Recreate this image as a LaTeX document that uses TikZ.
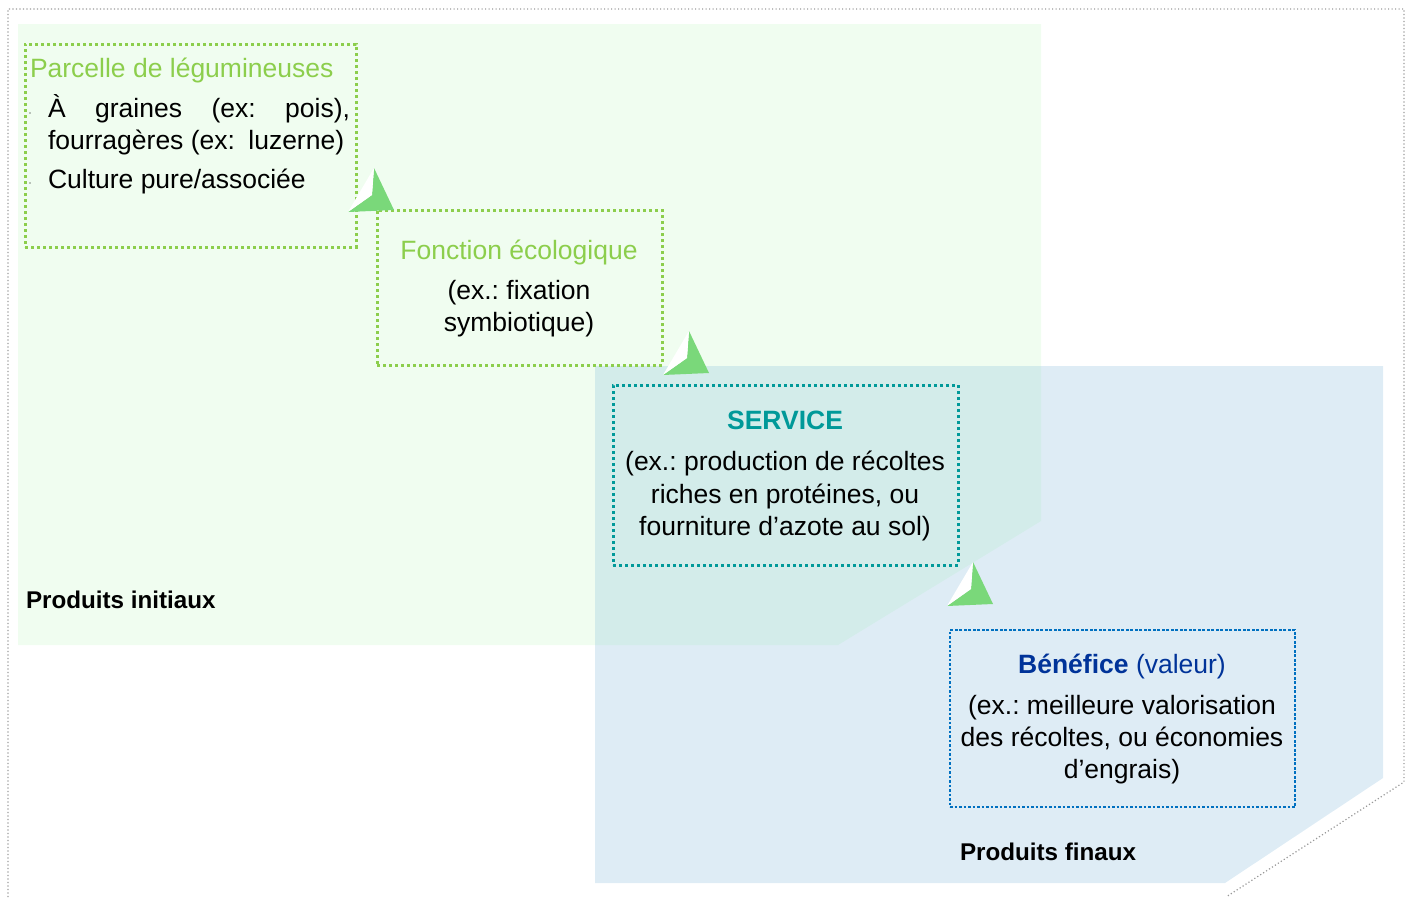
\documentclass[tikz,border=0pt]{standalone}
\usepackage{fontspec}
\setmainfont{Liberation Sans}
\frenchspacing
\definecolor{zonegreen}{RGB}{240,253,240}
\definecolor{zoneblue}{RGB}{222,236,245}
\definecolor{zoneboth}{RGB}{211,236,234}
\definecolor{lgreen}{RGB}{140,206,76}
\definecolor{tealc}{RGB}{0,153,153}
\definecolor{bluebox}{RGB}{0,112,192}
\definecolor{darkblue}{RGB}{0,51,153}
\definecolor{arrowgreen}{RGB}{122,216,122}
\begin{document}
\begin{tikzpicture}[x=1pt,y=-1pt,
  every node/.style={inner sep=0pt,outer sep=0pt},
  txt/.style={font=\fontsize{26.5}{33}\selectfont},
  lbl/.style={font=\fontsize{24.2}{28}\selectfont\bfseries},
  greenbox/.style={draw=lgreen,line width=3pt,dash pattern=on 3pt off 3pt},
  tealbox/.style={draw=tealc,line width=3pt,dash pattern=on 3pt off 3pt},
  bluedbox/.style={draw=bluebox,line width=2.8pt,dash pattern=on 2.6pt off 1.9pt},
  frame/.style={draw=gray!80,line width=1.2pt,dash pattern=on 1.2pt off 2.3pt},
  arrowhd/.pic={
    \fill[arrowgreen] (0,0) -- (20,42) -- (-26,44) -- (-2,27) -- cycle;
    \fill[white] (0,0) -- (-2,27) -- (-26,44) -- cycle;
  }]
\useasboundingbox (0,0) rectangle (1411,897);
% zones
\fill[zonegreen] (18,24) -- (1041,24) -- (1041,521) -- (838,645) -- (18,645) -- cycle;
\fill[zoneblue] (595,366) -- (1383,366) -- (1383,778) -- (1225,883) -- (595,883) -- cycle;
\fill[zoneboth] (595,366) -- (1041,366) -- (1041,521) -- (838,645) -- (595,645) -- cycle;
% outer frame
\draw[frame] (8,897) -- (8,9) -- (1404,9) -- (1404,782) -- (1226,897);
% boxes
\node[greenbox,minimum width=331pt,minimum height=203pt] (parcelle) at (190.5,145.5) {};
\node[greenbox,minimum width=285pt,minimum height=155pt] (fonction) at (519.5,287.5) {};
\node[tealbox,minimum width=345pt,minimum height=180pt] (service) at (785.5,475) {};
\node[bluedbox,minimum width=345pt,minimum height=177pt] (benefice) at (1122.5,718.5) {};
% box 1 text
\node[txt,text=lgreen,anchor=base west] (t1) at (30,77) {Parcelle de légumineuses};
\node[txt,anchor=base west] (t1a) at (48,117) {\makebox[302pt][s]{À graines (ex: pois),}};
\node[txt,anchor=base west] (t1b) at (48,149) {fourragères (ex:\hspace{6pt} luzerne)};
\node[txt,anchor=base west] (t1c) at (48,188) {Culture pure/associée};
\fill (30,113) circle (0.6pt);
\fill (30,183) circle (0.6pt);
% box 2 text
\node[txt,text=lgreen,anchor=base] (t2) at (519,259) {Fonction écologique};
\node[txt,anchor=base] (t2a) at (519,299) {(ex.: fixation};
\node[txt,anchor=base] (t2b) at (519,331) {symbiotique)};
% box 3 text
\node[txt,text=tealc,anchor=base,font=\fontsize{26.5}{33}\selectfont\bfseries] (t3) at (785,429) {SERVICE};
\node[txt,anchor=base] (t3a) at (785,470) {(ex.: production de récoltes};
\node[txt,anchor=base] (t3b) at (785,503) {riches en protéines, ou};
\node[txt,anchor=base] (t3c) at (785,535) {fourniture d’azote au sol)};
% box 4 text
\node[txt,text=darkblue,anchor=base] (t4) at (1122,673) {\textbf{Bénéfice} (valeur)};
\node[txt,anchor=base] (t4a) at (1122,714) {(ex.: meilleure valorisation};
\node[txt,anchor=base] (t4b) at (1122,746) {des récoltes, ou économies};
\node[txt,anchor=base] (t4c) at (1122,778) {d’engrais)};
% labels
\node[lbl,anchor=base west] (pi) at (26,608) {Produits initiaux};
\node[lbl,anchor=base west] (pf) at (960,860) {Produits finaux};
% arrowheads
\pic at (374,168) {arrowhd};
\pic at (689,331) {arrowhd};
\pic at (973,562) {arrowhd};
\end{tikzpicture}
\end{document}
